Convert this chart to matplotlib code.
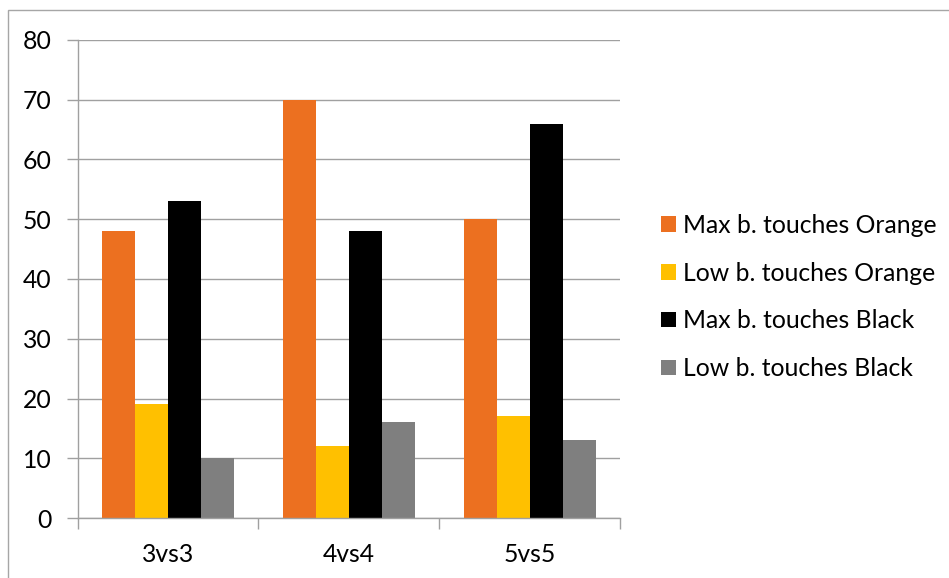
import matplotlib
matplotlib.use("Agg")
import matplotlib.pyplot as plt
from matplotlib.patches import Rectangle
import numpy as np

plt.rcParams['font.family'] = ['Lato', 'DejaVu Sans']

categories = ["3vs3", "4vs4", "5vs5"]
series_names = ["Max b. touches Orange", "Low b. touches Orange",
                "Max b. touches Black", "Low b. touches Black"]
max_orange = [48, 70, 50]
low_orange = [19, 12, 17]
max_black = [53, 48, 66]
low_black = [10, 16, 13]
y_ticks = [0, 10, 20, 30, 40, 50, 60, 70, 80]

series_values = [max_orange, low_orange, max_black, low_black]
colors = ["#EC7020", "#FFC000", "#000000", "#7F7F7F"]

W, H = 949, 578
fig = plt.figure(figsize=(W / 100, H / 100), dpi=100)

# outer chart border
fig.add_artist(Rectangle((8 / W, -0.01), 1.02, 1 - 10 / H + 0.01,
                         transform=fig.transFigure, fill=False,
                         edgecolor="#A6A6A6", linewidth=1.0))

ax = fig.add_axes([77.7 / W, 1 - 518 / H, (620 - 77.7) / W, (518 - 40) / H])

x = np.arange(len(categories))
bw = 0.1825
for i, (vals, name, c) in enumerate(zip(series_values, series_names, colors)):
    ax.bar(x + (i - 1.5) * bw, vals, width=bw, color=c, label=name,
           zorder=3, linewidth=0)

ax.set_xlim(-0.5, 2.5)
ax.set_ylim(0, 80)
ax.set_yticks(y_ticks)
ax.set_yticklabels([str(v) for v in y_ticks])
ax.set_xticks(x)
ax.set_xticklabels(categories)
ax.set_xticks([-0.5, 0.5, 1.5, 2.5], minor=True)

grid_c = "#A0A0A0"
ax.grid(axis="y", color=grid_c, linewidth=1.0, zorder=0)
ax.set_axisbelow(True)
for s in ["top", "right"]:
    ax.spines[s].set_visible(False)
for s in ["left", "bottom"]:
    ax.spines[s].set_color(grid_c)
    ax.spines[s].set_linewidth(1.0)
    ax.spines[s].set_zorder(4)

fs = 17.8
ax.tick_params(axis="y", length=8, color=grid_c, width=1.0, pad=11,
               labelsize=fs, labelcolor="black")
ax.tick_params(axis="x", which="major", length=0, pad=18,
               labelsize=fs, labelcolor="black")
ax.tick_params(axis="x", which="minor", length=8, color=grid_c, width=1.0)

leg = ax.legend(loc="center left", bbox_to_anchor=(651 / W, 1 - 297 / H),
                bbox_transform=fig.transFigure, frameon=False,
                fontsize=fs, handlelength=0.6, handleheight=0.6,
                handletextpad=0.3, labelspacing=1.0, borderaxespad=0)

fig.savefig("out.png", dpi=100)
